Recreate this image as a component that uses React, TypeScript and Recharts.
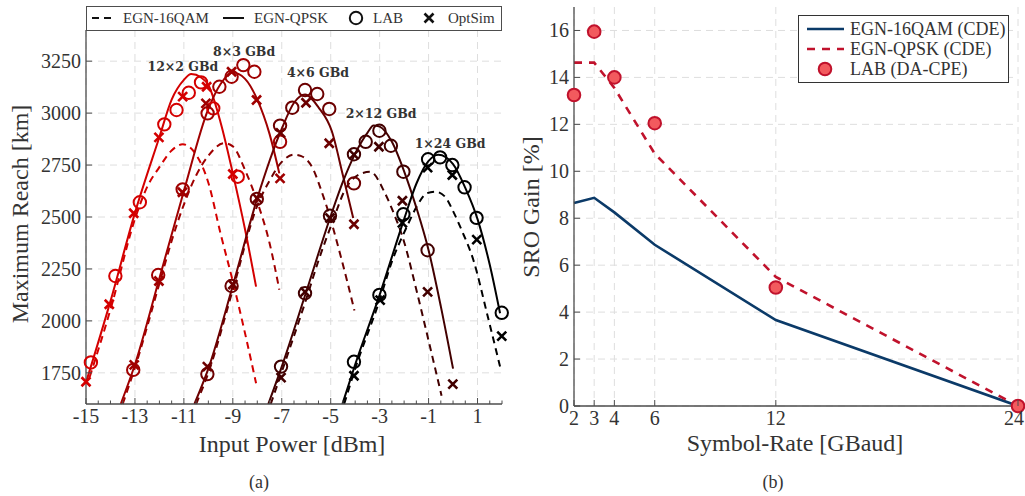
import { ComposedChart, Line, Scatter, XAxis, YAxis, CartesianGrid } from "recharts";

type Pt = [number, number];

// ---- (a) maximum reach vs input power, one block per channel config ----
// 12x2 GBd
const qam12x2: Pt[] = [[-14.85, 1730], [-14, 2055], [-13, 2490], [-12.5, 2645], [-12, 2740], [-11.5, 2820], [-11.05, 2850], [-10.5, 2800], [-10, 2665], [-9.5, 2420], [-9, 2190], [-8.5, 1940], [-8.05, 1700]];
const qpsk12x2: Pt[] = [[-14.97, 1715], [-14, 2095], [-13, 2520], [-12, 2885], [-11.5, 3065], [-11, 3160], [-10.7, 3188], [-10.3, 3172], [-10, 3135], [-9.5, 2955], [-9, 2710], [-8.5, 2440], [-8.05, 2165]];
const lab12x2: Pt[] = [[-14.8, 1800], [-13.8, 2216], [-12.8, 2571], [-11.8, 2946], [-11.3, 3015], [-10.8, 3098], [-10.3, 3148], [-9.8, 3023], [-8.8, 2694]];
const opt12x2: Pt[] = [[-15, 1707], [-14.05, 2080], [-13.05, 2518], [-12.02, 2883], [-11.05, 3079], [-10.07, 3127], [-9, 2707]];

// 8x3 GBd
const qam8x3: Pt[] = [[-13.5, 1600], [-13, 1775], [-12, 2180], [-11.5, 2385], [-11, 2560], [-10.5, 2700], [-10, 2795], [-9.35, 2855], [-9, 2840], [-8.5, 2726], [-8, 2573], [-7.5, 2375], [-7.1, 2150]];
const qpsk8x3: Pt[] = [[-13.58, 1600], [-13, 1790], [-12, 2205], [-11, 2625], [-10, 3020], [-9.5, 3140], [-9, 3195], [-8.5, 3165], [-8, 3065], [-7.5, 2900], [-7.1, 2710]];
const lab8x3: Pt[] = [[-13.07, 1764], [-12.05, 2221], [-11.05, 2633], [-10.03, 2999], [-9.55, 3127], [-9.05, 3175], [-8.57, 3231], [-8.12, 3199], [-7.07, 2862]];
const opt8x3: Pt[] = [[-13.03, 1788], [-12.02, 2192], [-11.06, 2619], [-10.1, 3047], [-9.05, 3199], [-8.03, 3063], [-7.07, 2686]];

// 4x6 GBd
const qam4x6: Pt[] = [[-10.5, 1600], [-10, 1750], [-9, 2150], [-8, 2555], [-7.5, 2675], [-7, 2765], [-6.5, 2800], [-6.2, 2793], [-5.7, 2726], [-5.44, 2646], [-5.16, 2549], [-4.55, 2293], [-4.03, 2050]];
const qpsk4x6: Pt[] = [[-10.57, 1600], [-10, 1770], [-9, 2170], [-8, 2590], [-7, 2925], [-6.5, 3050], [-6.05, 3090], [-5.5, 3028], [-4.96, 2915], [-4.5, 2700], [-4.08, 2495]];
const lab4x6: Pt[] = [[-10.04, 1744], [-9.05, 2168], [-8.02, 2587], [-7.07, 2940], [-6.57, 3026], [-6.05, 3111], [-5.55, 3092], [-5.06, 3020], [-4.05, 2662]];
const opt4x6: Pt[] = [[-10.04, 1780], [-9, 2175], [-8, 2590], [-7.05, 2905], [-6.01, 3050], [-5.06, 2855], [-4.05, 2465]];

// 2x12 GBd
const qam2x12: Pt[] = [[-7.45, 1600], [-7, 1755], [-6, 2105], [-5.5, 2290], [-4.9, 2485], [-4.42, 2630], [-3.73, 2710], [-3.39, 2718], [-2.78, 2614], [-2.5, 2540], [-2, 2380], [-1.5, 2150], [-1, 1905], [-0.47, 1640]];
const qpsk2x12: Pt[] = [[-7.55, 1600], [-7, 1780], [-6, 2140], [-5, 2505], [-4.5, 2670], [-4, 2805], [-3.5, 2905], [-3.25, 2940], [-3, 2935], [-2.5, 2862], [-2, 2720], [-1.5, 2545], [-1, 2340], [-0.5, 2070], [0, 1770]];
const lab2x12: Pt[] = [[-7.03, 1780], [-6.05, 2133], [-5.03, 2506], [-4.05, 2802], [-3.57, 2862], [-3.01, 2915], [-2.54, 2843], [-2.03, 2718], [-1.04, 2340]];
const opt2x12: Pt[] = [[-7.03, 1727], [-6.05, 2140], [-5.03, 2495], [-4.05, 2800], [-3.03, 2838], [-2.07, 2578], [-1.04, 2140], [-0.01, 1696]];

// 1x24 GBd
const qam1x24: Pt[] = [[-4.45, 1600], [-4, 1770], [-3, 2100], [-2.5, 2285], [-1.89, 2453], [-1.49, 2549], [-1.08, 2614], [-0.74, 2622], [-0.33, 2598], [0.01, 2526], [0.35, 2437], [0.83, 2293], [1.4, 2030], [1.92, 1780]];
const qpsk1x24: Pt[] = [[-4.52, 1600], [-4, 1790], [-3, 2125], [-2, 2490], [-1.5, 2660], [-1, 2770], [-0.6, 2800], [0, 2755], [0.5, 2640], [1, 2490], [1.5, 2270], [1.92, 2037]];
const lab1x24: Pt[] = [[-4.05, 1803], [-3.01, 2125], [-2.03, 2513], [-1.02, 2778], [-0.53, 2787], [-0.03, 2750], [0.47, 2643], [0.96, 2496], [1.99, 2039]];
const opt1x24: Pt[] = [[-4.05, 1736], [-2.98, 2100], [-2.07, 2472], [-1.04, 2738], [-0.03, 2702], [0.97, 2391], [1.99, 1927]];

const configNames = ["12×2 GBd", "8×3 GBd", "4×6 GBd", "2×12 GBd", "1×24 GBd"];
const configColors = ["#d40000", "#a00000", "#6c0000", "#420000", "#000000"];
// where the config names sit, in (dBm, km)
const configLabelAt: Pt[] = [[-11.04, 3222], [-8.54, 3294], [-5.52, 3193], [-2.94, 2996], [-0.12, 2851]];

const powerTicks = [-15, -13, -11, -9, -7, -5, -3, -1, 1];
const reachTicks = [1750, 2000, 2250, 2500, 2750, 3000, 3250];

// ---- (b) SRO gain vs symbol rate ----
const symbolRates = [2, 3, 4, 6, 12, 24];
const gain16qam = [8.65, 8.87, 8.25, 6.87, 3.66, 0];
const gainQpsk = [14.63, 14.63, 13.55, 10.75, 5.5, 0];
const gainLab = [13.25, 15.95, 14.0, 12.05, 5.05, 0];
const gainTicks = [0, 2, 4, 6, 8, 10, 12, 14, 16];

const toXY = (pts: Pt[]) => pts.map(([x, y]) => ({ x, y }));

const groups = [
  { qam: qam12x2, qpsk: qpsk12x2, lab: lab12x2, opt: opt12x2 },
  { qam: qam8x3, qpsk: qpsk8x3, lab: lab8x3, opt: opt8x3 },
  { qam: qam4x6, qpsk: qpsk4x6, lab: lab4x6, opt: opt4x6 },
  { qam: qam2x12, qpsk: qpsk2x12, lab: lab2x12, opt: opt2x12 },
  { qam: qam1x24, qpsk: qpsk1x24, lab: lab1x24, opt: opt1x24 },
];

const minorPower: number[] = [];
for (let v = -15; v <= 2; v += 0.5) minorPower.push(v);

const serif = "'Liberation Serif', 'Times New Roman', serif";
const axisCol = "#4d4d4d";
const textCol = "#333";
const gridCol = "#dedede";
const tickFont = { fontFamily: serif, fontSize: 20, fill: textCol };

const BottomTickA = ({ x, y, payload }: any) => {
  const major = powerTicks.includes(payload.value);
  return (
    <g>
      <line x1={x} x2={x} y1={y} y2={y - (major ? 6 : 3.5)} stroke={axisCol} />
      {major && (
        <text x={x} y={y + 19} textAnchor="middle" {...tickFont}>
          {payload.value}
        </text>
      )}
    </g>
  );
};
const TopTickA = ({ x, y, payload }: any) => {
  const major = powerTicks.includes(payload.value);
  return <line x1={x} x2={x} y1={y} y2={y + (major ? 6 : 3.5)} stroke={axisCol} />;
};
const LeftTick = ({ x, y, payload }: any) => (
  <g>
    <line x1={x} x2={x + 6} y1={y} y2={y} stroke={axisCol} />
    <text x={x - 5} y={y} dy="0.35em" textAnchor="end" {...tickFont}>
      {payload.value}
    </text>
  </g>
);
const RightTick = ({ x, y }: any) => <line x1={x} x2={x - 6} y1={y} y2={y} stroke={axisCol} />;
const BottomTickB = ({ x, y, payload }: any) => {
  const last = payload.value === symbolRates[symbolRates.length - 1];
  return (
    <g>
      <line x1={x} x2={x} y1={y} y2={y - 6} stroke={axisCol} />
      <text x={last ? x + 6 : x} y={y + 19} textAnchor={last ? "end" : "middle"} {...tickFont}>
        {payload.value}
      </text>
    </g>
  );
};
const TopTickB = ({ x, y }: any) => <line x1={x} x2={x} y1={y} y2={y + 6} stroke={axisCol} />;

const ring = (color: string) => (p: any) => (
  <circle cx={p.cx} cy={p.cy} r={6.2} fill="none" stroke={color} strokeWidth={2} />
);
const cross = (color: string) => (p: any) => (
  <path
    d={`M${p.cx - 4.5},${p.cy - 4.5}L${p.cx + 4.5},${p.cy + 4.5}M${p.cx - 4.5},${p.cy + 4.5}L${p.cx + 4.5},${p.cy - 4.5}`}
    stroke={color}
    strokeWidth={2.6}
    fill="none"
  />
);
const nameShape = (p: any) => (
  <text
    x={p.cx}
    y={p.cy}
    dy="0.35em"
    textAnchor="middle"
    fontFamily="'DejaVu Serif', serif"
    fontWeight="bold"
    fontSize={12.5}
    fill={textCol}
  >
    {p.payload.name}
  </text>
);
const labDot = (p: any) => (
  <circle cx={p.cx} cy={p.cy} r={6.3} fill="#f25a5e" stroke="#c0122c" strokeWidth={2} />
);

const abs = (left: number, top: number): React.CSSProperties => ({
  position: "absolute",
  left,
  top,
  fontFamily: serif,
  color: textCol,
  whiteSpace: "nowrap",
});

function PanelA() {
  const names = configNames.map((name, i) => ({ x: configLabelAt[i][0], y: configLabelAt[i][1], name }));
  return (
    <ComposedChart width={515} height={450} margin={{ top: 30, right: 13, bottom: 16, left: 26 }}>
      <CartesianGrid
        stroke={gridCol}
        strokeDasharray="7 5"
        verticalValues={powerTicks}
        horizontalValues={reachTicks}
      />
      <XAxis
        type="number"
        dataKey="x"
        domain={[-15, 2]}
        ticks={minorPower}
        interval={0}
        tick={<BottomTickA />}
        tickSize={0}
        tickMargin={0}
        height={30}
        axisLine={{ stroke: axisCol, strokeWidth: 1.3 }}
      />
      <XAxis
        xAxisId="top"
        orientation="top"
        type="number"
        dataKey="x"
        domain={[-15, 2]}
        ticks={minorPower}
        interval={0}
        tick={<TopTickA />}
        tickSize={0}
        tickMargin={0}
        height={0}
        axisLine={{ stroke: axisCol, strokeWidth: 1.3 }}
      />
      <YAxis
        type="number"
        dataKey="y"
        domain={[1600, 3400]}
        ticks={reachTicks}
        interval={0}
        tick={<LeftTick />}
        tickSize={0}
        tickMargin={0}
        width={60}
        axisLine={{ stroke: axisCol, strokeWidth: 1.3 }}
      />
      <YAxis
        yAxisId="right"
        orientation="right"
        type="number"
        dataKey="y"
        domain={[1600, 3400]}
        ticks={reachTicks}
        interval={0}
        tick={<RightTick />}
        tickSize={0}
        tickMargin={0}
        width={0}
        axisLine={{ stroke: axisCol, strokeWidth: 1.3 }}
      />
      {groups.map((g, i) => (
        <Line
          key={"q" + i}
          data={toXY(g.qam)}
          dataKey="y"
          type="monotone"
          stroke={configColors[i]}
          strokeWidth={2}
          strokeDasharray="7 5"
          dot={false}
          activeDot={false}
          isAnimationActive={false}
        />
      ))}
      {groups.map((g, i) => (
        <Line
          key={"p" + i}
          data={toXY(g.qpsk)}
          dataKey="y"
          type="monotone"
          stroke={configColors[i]}
          strokeWidth={2}
          dot={false}
          activeDot={false}
          isAnimationActive={false}
        />
      ))}
      {groups.map((g, i) => (
        <Scatter key={"l" + i} data={toXY(g.lab)} shape={ring(configColors[i])} isAnimationActive={false} />
      ))}
      {groups.map((g, i) => (
        <Scatter key={"o" + i} data={toXY(g.opt)} shape={cross(configColors[i])} isAnimationActive={false} />
      ))}
      <Scatter data={names} shape={nameShape} isAnimationActive={false} />
    </ComposedChart>
  );
}

function PanelB() {
  const rows = symbolRates.map((r, i) => ({ x: r, qam: gain16qam[i], qpsk: gainQpsk[i], y: gainLab[i] }));
  return (
    <ComposedChart width={505} height={450} data={rows} margin={{ top: 7, right: 7, bottom: 14, left: 14 }}>
      <CartesianGrid
        stroke={gridCol}
        strokeDasharray="7 5"
        verticalValues={symbolRates}
        horizontalValues={gainTicks}
      />
      <XAxis
        type="number"
        dataKey="x"
        domain={[2, 24]}
        ticks={symbolRates}
        interval={0}
        tick={<BottomTickB />}
        tickSize={0}
        tickMargin={0}
        height={30}
        axisLine={{ stroke: axisCol, strokeWidth: 1.3 }}
      />
      <XAxis
        xAxisId="top"
        orientation="top"
        type="number"
        dataKey="x"
        domain={[2, 24]}
        ticks={symbolRates}
        interval={0}
        tick={<TopTickB />}
        tickSize={0}
        tickMargin={0}
        height={0}
        axisLine={{ stroke: axisCol, strokeWidth: 1.3 }}
      />
      <YAxis
        type="number"
        dataKey="y"
        domain={[0, 17]}
        ticks={gainTicks}
        interval={0}
        tick={<LeftTick />}
        tickSize={0}
        tickMargin={0}
        width={40}
        axisLine={{ stroke: axisCol, strokeWidth: 1.3 }}
      />
      <YAxis
        yAxisId="right"
        orientation="right"
        type="number"
        domain={[0, 17]}
        ticks={gainTicks}
        interval={0}
        tick={<RightTick />}
        tickSize={0}
        tickMargin={0}
        width={0}
        axisLine={{ stroke: axisCol, strokeWidth: 1.3 }}
      />
      <Line dataKey="qam" type="linear" stroke="#0b3a68" strokeWidth={2.6} dot={false} activeDot={false} isAnimationActive={false} />
      <Line
        dataKey="qpsk"
        type="linear"
        stroke="#c0122c"
        strokeWidth={2.6}
        strokeDasharray="8 7"
        dot={false}
        activeDot={false}
        isAnimationActive={false}
      />
      <Scatter dataKey="y" shape={labDot} isAnimationActive={false} />
    </ComposedChart>
  );
}

export default function App() {
  return (
    <div style={{ position: "absolute", left: 0, top: 0, width: 1025, height: 496, background: "#fff", overflow: "hidden" }}>
      <div style={{ position: "absolute", left: 0, top: 0 }}>
        <PanelA />
      </div>
      <div style={{ position: "absolute", left: 520, top: 0 }}>
        <PanelB />
      </div>

      {/* legend (a) */}
      <div
        style={{
          position: "absolute",
          left: 86,
          top: 6,
          width: 416,
          height: 25,
          boxSizing: "border-box",
          border: `1.3px solid ${axisCol}`,
          background: "#fff",
        }}
      >
        <svg width={414} height={23} style={{ position: "absolute", left: 0, top: 0 }}>
          <line x1={5} x2={27} y1={11} y2={11} stroke="#111" strokeWidth={2} strokeDasharray="7 5" />
          <text x={36} y={11} dy="0.35em" fontFamily={serif} fontSize={15} fill={textCol}>EGN-16QAM</text>
          <line x1={136} x2={157} y1={11} y2={11} stroke="#111" strokeWidth={2} />
          <text x={167} y={11} dy="0.35em" fontFamily={serif} fontSize={15} fill={textCol}>EGN-QPSK</text>
          <circle cx={269} cy={11} r={6.2} fill="none" stroke="#111" strokeWidth={2} />
          <text x={286} y={11} dy="0.35em" fontFamily={serif} fontSize={15} fill={textCol}>LAB</text>
          <path d="M337.5,6.5L346.5,15.5M337.5,15.5L346.5,6.5" stroke="#111" strokeWidth={2.6} />
          <text x={361} y={11} dy="0.35em" fontFamily={serif} fontSize={15} fill={textCol}>OptSim</text>
        </svg>
      </div>

      {/* legend (b) */}
      <div
        style={{
          position: "absolute",
          left: 798,
          top: 15,
          width: 211,
          height: 68,
          boxSizing: "border-box",
          border: "1.3px solid #333",
          background: "#fff",
        }}
      >
        <svg width={209} height={66} style={{ position: "absolute", left: 0, top: 0 }}>
          <line x1={8} x2={45} y1={13} y2={13} stroke="#0b3a68" strokeWidth={2.6} />
          <text x={51} y={13} dy="0.35em" fontFamily={serif} fontSize={18} fill={textCol}>EGN-16QAM (CDE)</text>
          <line x1={8} x2={45} y1={33} y2={33} stroke="#c0122c" strokeWidth={2.6} strokeDasharray="8 7" />
          <text x={51} y={33} dy="0.35em" fontFamily={serif} fontSize={18} fill={textCol}>EGN-QPSK (CDE)</text>
          <circle cx={26} cy={53} r={6.3} fill="#f25a5e" stroke="#c0122c" strokeWidth={2} />
          <text x={51} y={53} dy="0.35em" fontFamily={serif} fontSize={18} fill={textCol}>LAB (DA-CPE)</text>
        </svg>
      </div>

      {/* axis titles and captions */}
      <div style={{ ...abs(292, 444), fontSize: 24, transform: "translate(-50%, -50%)" }}>Input Power [dBm]</div>
      <div style={{ ...abs(20, 214), fontSize: 24, transform: "translate(-50%, -50%) rotate(-90deg)" }}>
        Maximum Reach [km]
      </div>
      <div style={{ ...abs(795, 443), fontSize: 24, transform: "translate(-50%, -50%)" }}>Symbol-Rate [GBaud]</div>
      <div style={{ ...abs(531, 207), fontSize: 24, transform: "translate(-50%, -50%) rotate(-90deg)" }}>
        SRO Gain [%]
      </div>
      <div style={{ ...abs(259, 482), fontSize: 18, transform: "translate(-50%, -50%)" }}>(a)</div>
      <div style={{ ...abs(773, 482), fontSize: 18, transform: "translate(-50%, -50%)" }}>(b)</div>
    </div>
  );
}
